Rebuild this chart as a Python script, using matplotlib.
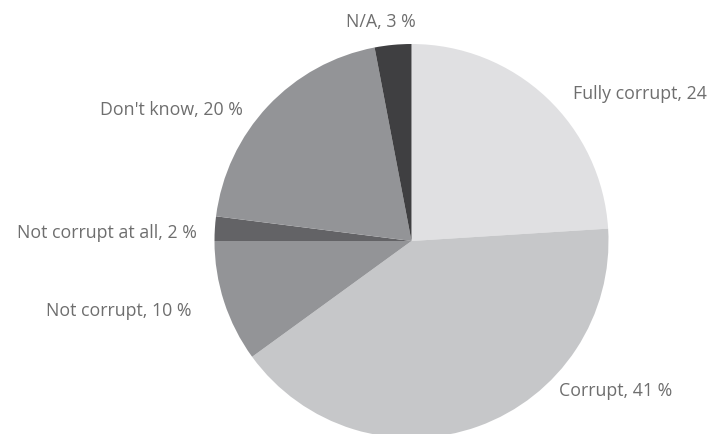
import matplotlib.pyplot as plt

# Survey answers, clockwise from 12 o'clock
categories = ["Fully corrupt", "Corrupt", "Not corrupt", "Not corrupt at all", "Don't know", "N/A"]
shares = [24, 41, 10, 2, 20, 3]
labels = ["Fully corrupt, 24", "Corrupt, 41 %", "Not corrupt, 10 %",
          "Not corrupt at all, 2 %", "Don't know, 20 %", "N/A, 3 %"]

colors = ["#e0e0e2", "#c6c7c9", "#939497", "#636366", "#939497", "#3f3f41"]

# label anchors in pixel space (x from left, y from top) and alignment
label_pos = [(573, 94), (559, 391), (192, 311), (197, 233), (243, 110), (381, 22)]
label_ha = ["left", "left", "right", "right", "right", "center"]

W, H = 711, 435
fig = plt.figure(figsize=(W / 100, H / 100), dpi=100)
ax = fig.add_axes([0, 0, 1, 1])

ax.pie(shares, colors=colors, startangle=90, counterclock=False,
       center=(411.5, H - 242), radius=197, frame=True,
       wedgeprops=dict(linewidth=0))
ax.set_xlim(0, W)
ax.set_ylim(0, H)
ax.axis("off")

for text, (x, y), ha in zip(labels, label_pos, label_ha):
    ax.text(x, H - y, text, ha=ha, va="center", fontsize=12.8,
            family="Open Sans", color="#6e6e6e")

fig.savefig("out.png", dpi=100)
